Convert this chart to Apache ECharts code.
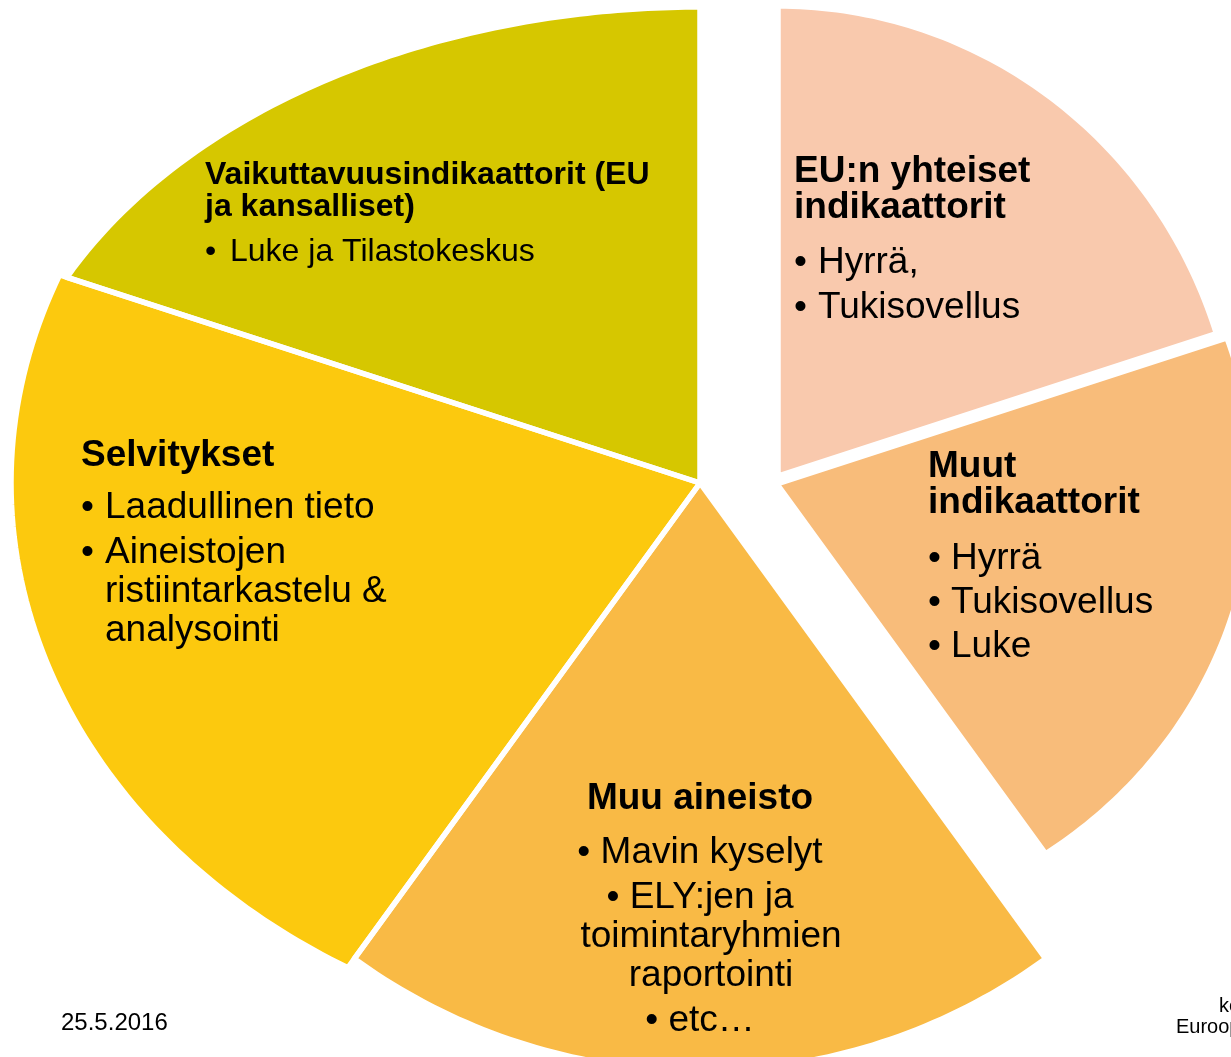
<!DOCTYPE html>
<html>
<head>
<meta charset="UTF-8">
<title>Arvioinnin tietolähteet</title>
<script src="https://cdn.jsdelivr.net/npm/echarts@6/dist/echarts.min.js"></script>
<style>
  html, body { margin: 0; padding: 0; background: #fff; }
  #main { width: 1231px; height: 1057px; }
</style>
</head>
<body>
<div id="main"></div>
<script type="text/javascript">
// slices clockwise from 12 o'clock, all the same size
var categories = ['EU:n yhteiset indikaattorit', 'Muut indikaattorit', 'Muu aineisto', 'Selvitykset', 'Vaikuttavuusindikaattorit (EU ja kansalliset)'];
var shares = [20, 20, 20, 20, 20];

// label text per slice: title lines, then bullet paragraphs (each a list of lines)
var titleLines = [
  ['EU:n yhteiset', 'indikaattorit'],
  ['Muut', 'indikaattorit'],
  ['Muu aineisto'],
  ['Selvitykset'],
  ['Vaikuttavuusindikaattorit (EU', 'ja kansalliset)']
];
var bulletItems = [
  [['Hyrrä,'], ['Tukisovellus']],
  [['Hyrrä'], ['Tukisovellus'], ['Luke']],
  [['Mavin kyselyt'], ['ELY:jen ja', 'toimintaryhmien', 'raportointi'], ['etc…']],
  [['Laadullinen tieto'], ['Aineistojen', 'ristiintarkastelu &', 'analysointi']],
  [['Luke ja Tilastokeskus']]
];
var footerDate = '25.5.2016';
var footerRight = ['ko', 'Euroopan'];

// look of the slices (ellipse per slice, two are pulled out to the right)
var colors = ['#F9C9AD', '#F8BC7A', '#F9BA45', '#FCC90E', '#D6C700'];
var sliceGeom = [
  {cx: 778, cy: 476, rx: 460, ry: 470},
  {cx: 777, cy: 484, rx: 476, ry: 448},
  {cx: 700, cy: 483, rx: 588, ry: 588},
  {cx: 700, cy: 483, rx: 689, ry: 564},
  {cx: 700, cy: 483, rx: 702, ry: 476}
];
var labelLayout = [
  {x: 794, align: 'left', size: 37, titleY: 169, titleStep: 36, itemY: 260.5, lineStep: 39, paraGap: 6, indent: 24},
  {x: 928, align: 'left', size: 37, titleY: 464.5, titleStep: 36, itemY: 556.5, lineStep: 39, paraGap: 5, indent: 23},
  {x: 700, align: 'center', size: 37, titleY: 796.5, titleStep: 36, itemY: 850.5, lineStep: 39, paraGap: 6, contX: 711},
  {x: 81, align: 'left', size: 37, titleY: 453, titleStep: 36, itemY: 505, lineStep: 39, paraGap: 6, indent: 24},
  {x: 205, align: 'left', size: 32, titleY: 172.5, titleStep: 32, itemY: 249.5, lineStep: 32, paraGap: 6, indent: 25}
];
var fontFamily = '"Liberation Sans", Arial, sans-serif';
// canvas "middle" sits a little above the cap centre
var midShift = 0.068;

var total = shares.reduce(function (a, b) { return a + b; }, 0);

function slicePoints(i, value) {
    var before = 0;
    for (var j = 0; j < i; j++) before += shares[j];
    var a0 = 90 - before / total * 360;
    var a1 = a0 - value / total * 360;
    var g = sliceGeom[i];
    var pts = [[g.cx, g.cy]];
    var steps = 80;
    for (var k = 0; k <= steps; k++) {
        var a = (a0 + (a1 - a0) * k / steps) * Math.PI / 180;
        var c = Math.cos(a), s = Math.sin(a);
        var r = 1 / Math.sqrt(c * c / (g.rx * g.rx) + s * s / (g.ry * g.ry));
        pts.push([g.cx + r * c, g.cy - r * s]);
    }
    return pts;
}

var seriesData = shares.map(function (v, i) { return {name: categories[i], value: v}; });

function textEl(text, x, y, size, weight, align) {
    return {type: 'text', z: 10, style: {
        text: text, x: x, y: y + size * midShift,
        font: (weight ? weight + ' ' : '') + size + 'px ' + fontFamily,
        fill: '#000', textAlign: align, textVerticalAlign: 'middle'}};
}

// texts
var elements = [];
labelLayout.forEach(function (L, i) {
    titleLines[i].forEach(function (t, k) {
        elements.push(textEl(t, L.x, L.titleY + k * L.titleStep, L.size, 'bold', L.align));
    });
    var y = L.itemY;
    bulletItems[i].forEach(function (para) {
        para.forEach(function (line, k) {
            if (L.align === 'center') {
                elements.push(textEl(k === 0 ? '• ' + line : line, k === 0 ? L.x : L.contX, y, L.size, '', 'center'));
            } else {
                if (k === 0) elements.push(textEl('•', L.x, y, L.size, '', 'left'));
                elements.push(textEl(line, L.x + L.indent, y, L.size, '', 'left'));
            }
            y += L.lineStep;
        });
        y += L.paraGap;
    });
});
elements.push(textEl(footerDate, 61, 1022, 24, '', 'left'));
elements.push(textEl(footerRight[0], 1219, 1005, 20, '', 'left'));
elements.push(textEl(footerRight[1], 1176, 1026, 20, '', 'left'));

var myChart = echarts.init(document.getElementById('main'));
var option = {
    animation: false,
    backgroundColor: '#fff',
    series: [
        {
            type: 'custom',
            coordinateSystem: 'none',
            z: 1,
            data: seriesData,
            renderItem: function (params, api) {
                return {type: 'polygon', shape: {points: slicePoints(params.dataIndex, api.value(0))},
                        style: {fill: colors[params.dataIndex], stroke: null}};
            }
        },
        {
            // white gaps between the slices
            type: 'custom',
            coordinateSystem: 'none',
            z: 2,
            silent: true,
            data: seriesData,
            renderItem: function (params, api) {
                return {type: 'polygon', shape: {points: slicePoints(params.dataIndex, api.value(0))},
                        style: {fill: 'none', stroke: '#fff', lineWidth: 5.5, lineJoin: 'round'}};
            }
        }
    ],
    graphic: {elements: elements}
};
myChart.setOption(option);
</script>
</body>
</html>
